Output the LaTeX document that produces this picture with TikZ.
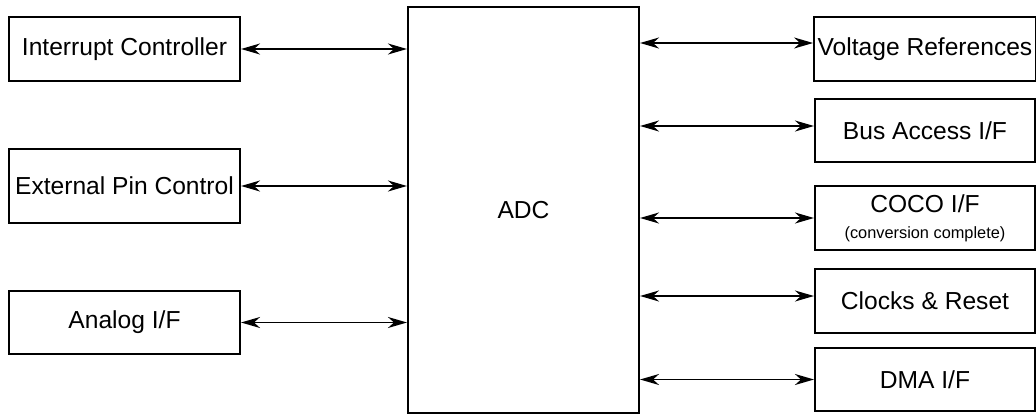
\documentclass[tikz,border=0pt]{standalone}
\usepackage{fontspec}
\setmainfont{Liberation Sans}
\usetikzlibrary{arrows.meta,positioning}
\definecolor{cLine}{HTML}{000000}
\tikzset{
  blk/.style={draw=cLine, line width=1.2pt, fill=white, align=center,
    inner sep=2pt, font=\fontsize{14}{16}\selectfont},
  side/.style={blk, minimum height=1.27cm},
  lside/.style={side, minimum width=4.62cm},
  rside/.style={side, minimum width=4.4cm},
  link/.style={{Stealth[length=3.8mm, width=2.2mm, inset=1.2mm]}-{Stealth[length=3.8mm, width=2.2mm, inset=1.2mm]},
    line width=0.95pt, draw=cLine},
}

\begin{document}
\begin{tikzpicture}[x=0.02cm, y=-0.02cm]
    \useasboundingbox (0,0) rectangle (1036,416);
    % core
    \node[blk, minimum width=4.62cm, minimum height=8.12cm] (adc) at (523.5,210) {ADC};
    % left side
    \node[lside] (irq) at (124.5,49) {Interrupt Controller};
    \node[lside, minimum height=1.48cm] (pin) at (124.5,186) {External Pin Control};
    \node[lside] (ana) at (124.5,322.5) {Analog I/F};
    % right side
    \node[rside] (vref) at (925,49) {Voltage References};
    \node[rside] (bus) at (925,130.5) {Bus Access I/F};
    \node[rside] (coco) at (925,218) {COCO I/F\\[-1pt]{\fontsize{9.3}{11}\selectfont (conversion complete)}};
    \node[rside] (clk) at (925,301) {Clocks \& Reset};
    \node[rside] (dma) at (925,379.5) {DMA I/F};
    % links
    \draw[link] (irq.east) -- (adc.west |- irq.east);
    \draw[link] (pin.east) -- (adc.west |- pin.east);
    \draw[link] (ana.east) -- (adc.west |- ana.east);
    \draw[link] ([yshift=0.12cm]adc.east |- vref.west) -- ([yshift=0.12cm]vref.west);
    \draw[link] ([yshift=0.09cm]adc.east |- bus.west) -- ([yshift=0.09cm]bus.west);
    \draw[link] (adc.east |- coco.west) -- (coco.west);
    \draw[link] ([yshift=0.1cm]adc.east |- clk.west) -- ([yshift=0.1cm]clk.west);
    \draw[link] (adc.east |- dma.west) -- (dma.west);
\end{tikzpicture}
\end{document}
